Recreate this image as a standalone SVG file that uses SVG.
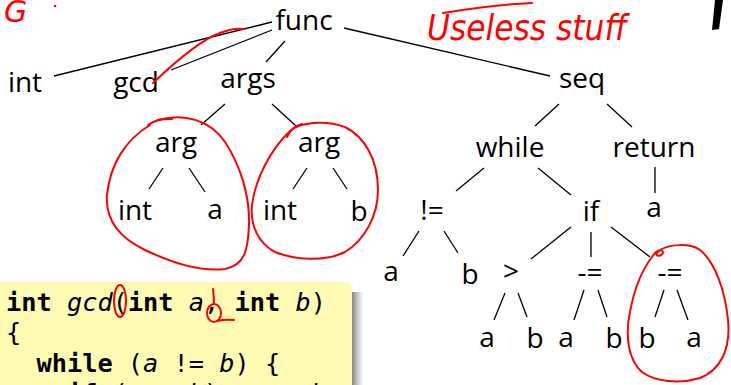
<svg xmlns="http://www.w3.org/2000/svg" width="731" height="385" viewBox="0 0 731 385">
<style>
.n{font-family:"Open Sans","Noto Sans","DejaVu Sans",sans-serif;font-size:28px;fill:#000;text-anchor:middle}
.e{stroke:#000;stroke-width:1.3;fill:none}
.r{stroke:#f00;stroke-width:2;fill:none;stroke-linecap:round;stroke-linejoin:round}
.code{font-family:"DejaVu Sans Mono","Liberation Mono",monospace;font-size:25.3px;fill:#000;white-space:pre}
.b{font-weight:bold}
.i{font-style:italic}
</style>
<defs>
<linearGradient id="sh" x1="0" y1="0" x2="1" y2="0">
<stop offset="0" stop-color="#666" stop-opacity="0.8"/>
<stop offset="1" stop-color="#999" stop-opacity="0"/>
</linearGradient>
</defs>
<rect width="731" height="385" fill="#fff"/>

<g id="connectors">
<line class="e" x1="272" y1="22" x2="54" y2="76"/>
<line class="e" x1="272" y1="30" x2="171" y2="70"/>
<line class="e" x1="285" y1="41" x2="266" y2="62"/>
<line class="e" x1="344" y1="28" x2="550" y2="76"/>
<line class="e" x1="225" y1="104" x2="201" y2="125"/>
<line class="e" x1="272" y1="104" x2="296" y2="126"/>
<line class="e" x1="163" y1="168" x2="149" y2="189"/>
<line class="e" x1="189" y1="168" x2="205" y2="192"/>
<line class="e" x1="307" y1="168" x2="293" y2="189"/>
<line class="e" x1="333" y1="168" x2="347" y2="189"/>
<line class="e" x1="559" y1="104" x2="535" y2="126"/>
<line class="e" x1="607" y1="104" x2="632" y2="127"/>
<line class="e" x1="484" y1="168" x2="456" y2="191"/>
<line class="e" x1="538" y1="168" x2="571" y2="195"/>
<line class="e" x1="655" y1="167" x2="655" y2="193"/>
<line class="e" x1="419" y1="231" x2="403" y2="256"/>
<line class="e" x1="444" y1="231" x2="458" y2="253"/>
<line class="e" x1="571" y1="227" x2="531" y2="259"/>
<line class="e" x1="591" y1="232" x2="591" y2="257"/>
<line class="e" x1="611" y1="227" x2="650" y2="257"/>
<line class="e" x1="505" y1="293" x2="494" y2="320"/>
<line class="e" x1="518" y1="293" x2="527" y2="317"/>
<line class="e" x1="584" y1="290" x2="574" y2="320"/>
<line class="e" x1="598" y1="290" x2="607" y2="317"/>
<line class="e" x1="664" y1="290" x2="655" y2="317"/>
<line class="e" x1="677" y1="290" x2="688" y2="320"/>
</g>

<g id="func"><text class="n" x="304" y="30">func</text></g>
<g id="int-ret"><text class="n" x="25" y="92">int</text></g>
<g id="gcd"><text class="n" x="136" y="92">gcd</text></g>
<g id="args"><text class="n" x="248" y="88">args</text></g>
<g id="seq"><text class="n" x="582" y="88">seq</text></g>
<g id="arg1"><text class="n" x="176" y="152">arg</text></g>
<g id="arg2"><text class="n" x="319" y="152">arg</text></g>
<g id="int1"><text class="n" x="135" y="220">int</text></g>
<g id="a1"><text class="n" x="215" y="219">a</text></g>
<g id="int2"><text class="n" x="280" y="220">int</text></g>
<g id="b1"><text class="n" x="359" y="221">b</text></g>
<g id="while"><text class="n" x="510" y="157">while</text></g>
<g id="return"><text class="n" x="654" y="157">return</text></g>
<g id="ne"><text class="n" x="432" y="220">!=</text></g>
<g id="if"><text class="n" x="591" y="221">if</text></g>
<g id="a-ret"><text class="n" x="654" y="217">a</text></g>
<g id="a2"><text class="n" x="391" y="281">a</text></g>
<g id="b2"><text class="n" x="470" y="284">b</text></g>
<g id="gt"><text class="n" x="511" y="281">&gt;</text></g>
<g id="sub1"><text class="n" x="590" y="282">-=</text></g>
<g id="sub2"><text class="n" x="670" y="282">-=</text></g>
<g id="a3"><text class="n" x="487" y="347">a</text></g>
<g id="b3"><text class="n" x="535" y="348">b</text></g>
<g id="a4"><text class="n" x="566" y="347">a</text></g>
<g id="b4"><text class="n" x="614" y="348">b</text></g>
<g id="b5"><text class="n" x="647" y="348">b</text></g>
<g id="a5"><text class="n" x="694" y="347">a</text></g>

<g id="code">
<rect x="352" y="292" width="12" height="100" fill="url(#sh)"/>
<rect x="-8" y="282" width="360" height="120" rx="6" fill="#fffbb4"/>
<text class="code" x="6" y="311"><tspan class="b">int</tspan> <tspan class="i">gcd</tspan>(<tspan class="b">int</tspan> <tspan class="i">a</tspan>, <tspan class="b">int</tspan> <tspan class="i">b</tspan>)</text>
<text class="code" x="6" y="341">{</text>
<text class="code" x="6" y="372">  <tspan class="b">while</tspan> (<tspan class="i">a</tspan> != <tspan class="i">b</tspan>) {</text>
<text class="code" x="6" y="402">    <tspan class="b">if</tspan> (<tspan class="i">a</tspan> &gt; <tspan class="i">b</tspan>) <tspan class="i">a</tspan> -= <tspan class="i">b</tspan>;</text>
</g>

<g id="annotations">
<path class="r" d="M153,83 C175,62 200,40 220,33 C230,29 238,28 244,29"/>
<path class="r" d="M158,120 C185,113 210,120 225,142 C240,165 250,195 249,225 C248,250 245,265 225,269 C200,272 170,262 145,250 C120,238 105,220 107,195 C110,165 125,140 150,125"/>
<path class="r" d="M148,125 Q158,118 172,119"/>
<path class="r" d="M290,131 C300,122 325,120 345,127 C365,137 378,160 378,190 C378,215 365,240 345,252 C325,262 295,260 275,252 C258,243 250,225 252,205 C255,180 270,150 290,131"/>
<path class="r" d="M287,137 Q292,126 302,124"/>
<path class="r" d="M652,257 C656,250 663,248 663,253 C660,258 652,256 660,250 C670,244 690,243 700,250 C715,262 725,290 728,320 C731,350 720,370 700,378 C680,384 655,382 642,372 C628,360 625,335 630,312 C634,290 642,270 652,257"/>
<ellipse class="r" cx="120" cy="301" rx="6" ry="16"/>
<path class="r" d="M213,289 Q214,297 214,304"/>
<ellipse class="r" cx="214" cy="313" rx="7" ry="9"/>
<path class="r" d="M217,321 Q225,319 234,320"/>
<text x="427" y="40" font-family="DejaVu Sans,sans-serif" font-size="36" font-style="italic" fill="#f00" textLength="200" lengthAdjust="spacingAndGlyphs">Useless stuff</text>
<path class="r" d="M443,13 Q490,5 532,3"/>
<text x="4" y="22" font-family="DejaVu Sans,sans-serif" font-size="30" font-style="italic" fill="#f00">G</text>
<circle cx="55" cy="6" r="1.3" fill="#f00"/>
<polygon points="715,0 723,0 719,29 712,30" fill="#000"/>
</g>
</svg>
